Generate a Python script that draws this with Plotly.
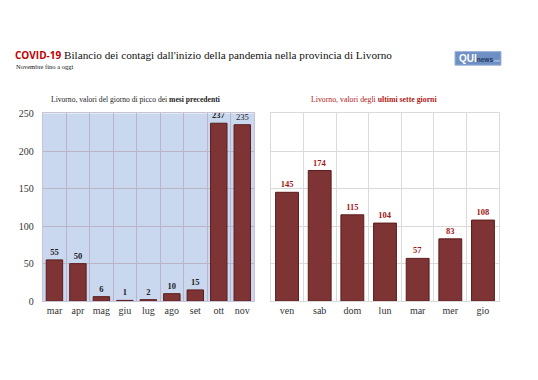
import plotly.graph_objects as go

months = ["mar", "apr", "mag", "giu", "lug", "ago", "set", "ott", "nov"]
month_values = [55, 50, 6, 1, 2, 10, 15, 237, 235]
days = ["ven", "sab", "dom", "lun", "mar", "mer", "gio"]
day_values = [145, 174, 115, 104, 57, 83, 108]
y_ticks = [0, 50, 100, 150, 200, 250]

W, H = 538, 380
def px(x): return x / W
def py(y): return 1 - y / H

SERIF = "Liberation Serif, DejaVu Serif, serif"
BAR = "#7E3434"
BAR_LINE = "#5C1C1C"

fig = go.Figure()

left_text = [f"<b>{v}</b>" if i < len(month_values) - 1 else f"{v}" for i, v in enumerate(month_values)]
fig.add_trace(go.Bar(
    x=months, y=month_values, xaxis="x", yaxis="y",
    marker=dict(color=BAR, line=dict(color=BAR_LINE, width=1)),
    text=left_text, textposition="outside", cliponaxis=False,
    textfont=dict(family=SERIF, size=8.5, color="#222222"),
    showlegend=False, hoverinfo="skip",
))
fig.add_trace(go.Bar(
    x=days, y=day_values, xaxis="x2", yaxis="y2",
    marker=dict(color=BAR, line=dict(color=BAR_LINE, width=1)),
    text=[f"<b>{v}</b>" for v in day_values], textposition="outside", cliponaxis=False,
    textfont=dict(family=SERIF, size=8.5, color="#A01818"),
    showlegend=False, hoverinfo="skip",
))

tickfont = dict(family=SERIF, size=10, color="#333333")
fig.update_layout(
    width=W, height=H, autosize=False,
    margin=dict(l=0, r=0, t=0, b=0),
    paper_bgcolor="white", plot_bgcolor="white",
    bargap=0.3,
    font=dict(family=SERIF, size=9, color="#333333"),
    xaxis=dict(domain=[px(42.7), px(254)], anchor="y", type="category", tickangle=0,
               tickson="boundaries", showgrid=True, gridcolor="#B9B4C8", gridwidth=1,
               showline=True, mirror=True, linecolor="#C9C4D4", ticks="",
               tickfont=tickfont),
    yaxis=dict(domain=[py(305), py(111.7)], anchor="x", range=[0, 250],
               tickvals=y_ticks, showgrid=True, gridcolor="#B9B4C8", zeroline=False,
               showline=True, mirror=True, linecolor="#C9C4D4", ticks="",
               ticklabelstandoff=6, tickfont=tickfont),
    xaxis2=dict(domain=[px(270.7), px(499.3)], anchor="y2", type="category", tickangle=0,
                tickson="boundaries", showgrid=True, gridcolor="#DADADA", gridwidth=1,
                showline=True, mirror=True, linecolor="#DADADA", ticks="",
                tickfont=tickfont),
    yaxis2=dict(domain=[py(305), py(111.7)], anchor="x2", range=[0, 250],
                tickvals=y_ticks, showticklabels=False, showgrid=True, gridcolor="#DADADA",
                zeroline=False, showline=True, mirror=True, linecolor="#DADADA", ticks=""),
)

# left plot background (light blue)
fig.add_shape(type="rect", xref="x domain", yref="y domain", x0=0, x1=1, y0=0, y1=1,
              fillcolor="#C9D8EF", line=dict(width=0), layer="below")

# logo box
fig.add_shape(type="rect", xref="paper", yref="paper", x0=px(455), x1=px(501), y0=py(62), y1=py(48),
              fillcolor="#6E8FC4", line=dict(color="#9DB3D8", width=1), layer="below")

annotations = [
    dict(x=px(13), y=py(51), xref="paper", yref="paper", xanchor="left", yanchor="middle",
         text="<b><span style='font-family:Open Sans, Liberation Sans, sans-serif;color:#C00000;font-size:10px'>COVID-19</span></b> Bilancio dei contagi dall'inizio della pandemia nella provincia di Livorno",
         showarrow=False, font=dict(family=SERIF, size=11.2, color="#111111")),
    dict(x=px(14), y=py(63.5), xref="paper", yref="paper", xanchor="left", yanchor="middle",
         text="Novembre fino a oggi", showarrow=False,
         font=dict(family=SERIF, size=6.5, color="#111111")),
    dict(x=px(135), y=py(97), xref="paper", yref="paper", xanchor="center", yanchor="middle",
         text="Livorno, valori del giorno di picco dei <b>mesi precedenti</b>", showarrow=False,
         font=dict(family=SERIF, size=7.6, color="#222222")),
    dict(x=px(374), y=py(97), xref="paper", yref="paper", xanchor="center", yanchor="middle",
         text="Livorno, valori degli <b>ultimi sette giorni</b>", showarrow=False,
         font=dict(family=SERIF, size=7.8, color="#B01818")),
    dict(x=px(457), y=py(55), xref="paper", yref="paper", xanchor="left", yanchor="middle",
         text="<b>QUI</b><span style='font-size:6.5px;color:#1E3560'><b>news</b></span><span style='font-size:4px;color:#DDE6F4'>.net</span>",
         showarrow=False,
         font=dict(family="Liberation Sans, sans-serif", size=10, color="white")),
]
fig.update_layout(annotations=annotations)

fig.write_html("out.html", config={"responsive": False, "displayModeBar": False},
               post_script="document.body.style.margin='0';document.body.style.overflow='hidden';")
